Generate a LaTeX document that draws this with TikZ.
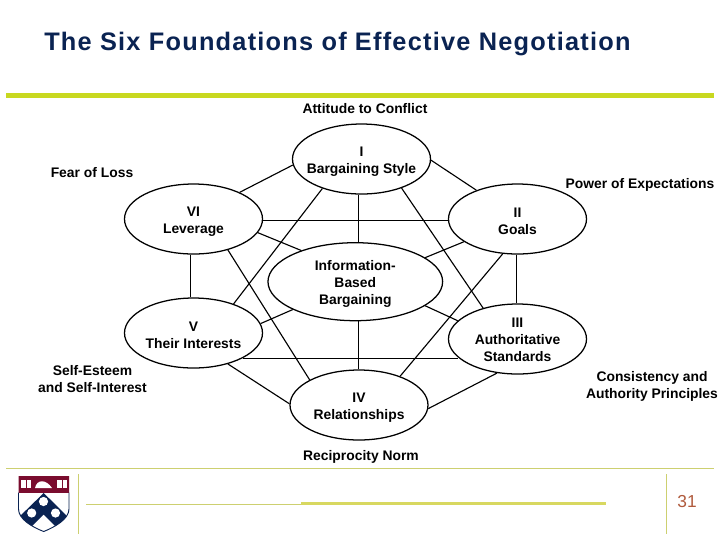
\documentclass[tikz,border=0pt]{standalone}
\usepackage{fontspec}
\setmainfont{Liberation Sans}
\newfontfamily\titlefont[LetterSpace=4.9]{Liberation Sans}
\usetikzlibrary{shapes.geometric}
\definecolor{navy}{HTML}{0A2352}
\definecolor{lime}{HTML}{C8D820}
\definecolor{olive}{HTML}{CDD070}
\definecolor{oliveb}{HTML}{D8D860}
\definecolor{pennred}{HTML}{7A0C2E}
\definecolor{pagenum}{HTML}{B05A3C}
\tikzset{
 x=0.75pt,y=-0.75pt,
 found/.style={ellipse,draw=black,line width=0.95pt,fill=white,inner sep=0pt,
   minimum width=103.5pt,minimum height=52.5pt},
 lab/.style={align=center,inner sep=0pt,font=\fontsize{10.4}{12.75}\selectfont\bfseries},
 ftext/.style={lab,yshift=-1.9pt},
 conn/.style={line width=0.85pt,black},
 thinrule/.style={olive,line width=0.75pt},
}
\begin{document}
\begin{tikzpicture}
\useasboundingbox (0,0) rectangle (720,540);
\fill[white] (0,0) rectangle (720,540);
\node[anchor=base west,inner sep=0pt,text=navy,font=\titlefont\fontsize{19}{22}\selectfont\bfseries] (title) at (44,50) {The Six Foundations of Effective Negotiation};
\fill[lime] (6,93) rectangle (714,98);
\node[found,label={[ftext]center:I\\Bargaining Style}] (I) at (361.5,159) {};
\node[found,label={[ftext]center:VI\\Leverage}] (VI) at (193.5,219) {};
\node[found,label={[ftext]center:II\\Goals}] (II) at (517.5,219) {};
\node[found,minimum width=131pt,minimum height=58.5pt,label={[ftext]center:Information-\\Based\\Bargaining}] (C) at (355.3,281.7) {};
\node[found,label={[ftext]center:V\\Their Interests}] (V) at (193.5,333) {};
\node[found,label={[ftext,yshift=1pt]center:III\\Authoritative\\Standards}] (III) at (517.5,339) {};
\node[found,label={[ftext]center:IV\\Relationships}] (IV) at (359,405) {};
\draw[conn] (I.185.9) -- (VI.30);
\draw[conn] (I.-1.4) -- (II.145.3);
\draw[conn] (I.265) -- (I.265 |- C.88);
\draw[conn] (VI.-1.9) -- (VI.-1.9 -| II.181.9);
\draw[conn] (VI.-12) -- (C.150);
\draw[conn] (II.203.4) -- (C.19.3);
\draw[conn] (I.217.5) -- (V.36.5);
\draw[conn] (I.-36.8) -- (III.138.1);
\draw[conn] (VI.265) -- (VI.265 |- V.95);
\draw[conn] (II.-91) -- (II.-91 |- III.91);
\draw[conn] (VI.-42.4) -- (IV.153.4);
\draw[conn] (II.247.5) -- (IV.35.3);
\draw[conn] (V.8.3) -- (C.204.2);
\draw[conn] (C.-19.3) -- (III.163.9);
\draw[conn] (IV.91) -- (IV.91 |- C.-88);
\draw[conn] (V.-27) -- (V.-27 -| III.197.1);
\draw[conn] (V.-42.4) -- (IV.179.4);
\draw[conn] (III.239.6) -- (IV.-3.3);
\node[lab] (a) at (365,109) {Attitude to Conflict};
\node[lab] (b) at (92,173) {Fear of Loss};
\node[lab] (c) at (640,185) {Power of Expectations};
\node[lab] (d) at (92.5,379.5) {Self-Esteem\\and Self-Interest};
\node[lab] (e) at (652,386) {Consistency and\\Authority Principles};
\node[lab] (f) at (361,457) {Reciprocity Norm};
\draw[thinrule] (6,468.5) -- (714,468.5);
\draw[thinrule] (78.5,474) -- (78.5,534);
\draw[thinrule] (666.5,474) -- (666.5,534);
\draw[thinrule] (86,504.5) -- (301,504.5);
\draw[oliveb,line width=1.8pt] (301,503.5) -- (606,503.5);
\node[text=pagenum,inner sep=0pt,font=\fontsize{13}{16}\selectfont] (n) at (687,502) {31};
% shield
\begin{scope}
\clip (18.5,476) -- (69,476) -- (69,509) .. controls (69,519) and (55,527) .. (43.7,531.5) .. controls (32,527) and (18.5,519) .. (18.5,509) -- cycle;
\fill[pennred] (18,476) rectangle (70,492.7);
\fill[navy] (43.7,493) -- (70,519) -- (60,531) -- (43.7,514.5) -- (27,531) -- (17,519) -- cycle;
\fill[white] (43.5,501.5) circle (4.6);
\fill[white] (31.7,513) circle (4.6);
\fill[white] (55.5,513) circle (4.6);
\fill[white] (21,480) rectangle (31,488);
\fill[white] (57,480) rectangle (67,488);
\fill[white] (35,488) .. controls (37,479) and (46,479) .. (52,488) -- cycle;
\fill[pennred] (26,480) rectangle (26.6,488);
\fill[pennred] (62,480) rectangle (62.6,488);
\end{scope}
\draw[navy,line width=0.7pt] (18.5,492.7) -- (18.5,509) .. controls (18.5,519) and (32,527) .. (43.7,531.5) .. controls (55,527) and (69,519) .. (69,509) -- (69,492.7);
\end{tikzpicture}
\end{document}
